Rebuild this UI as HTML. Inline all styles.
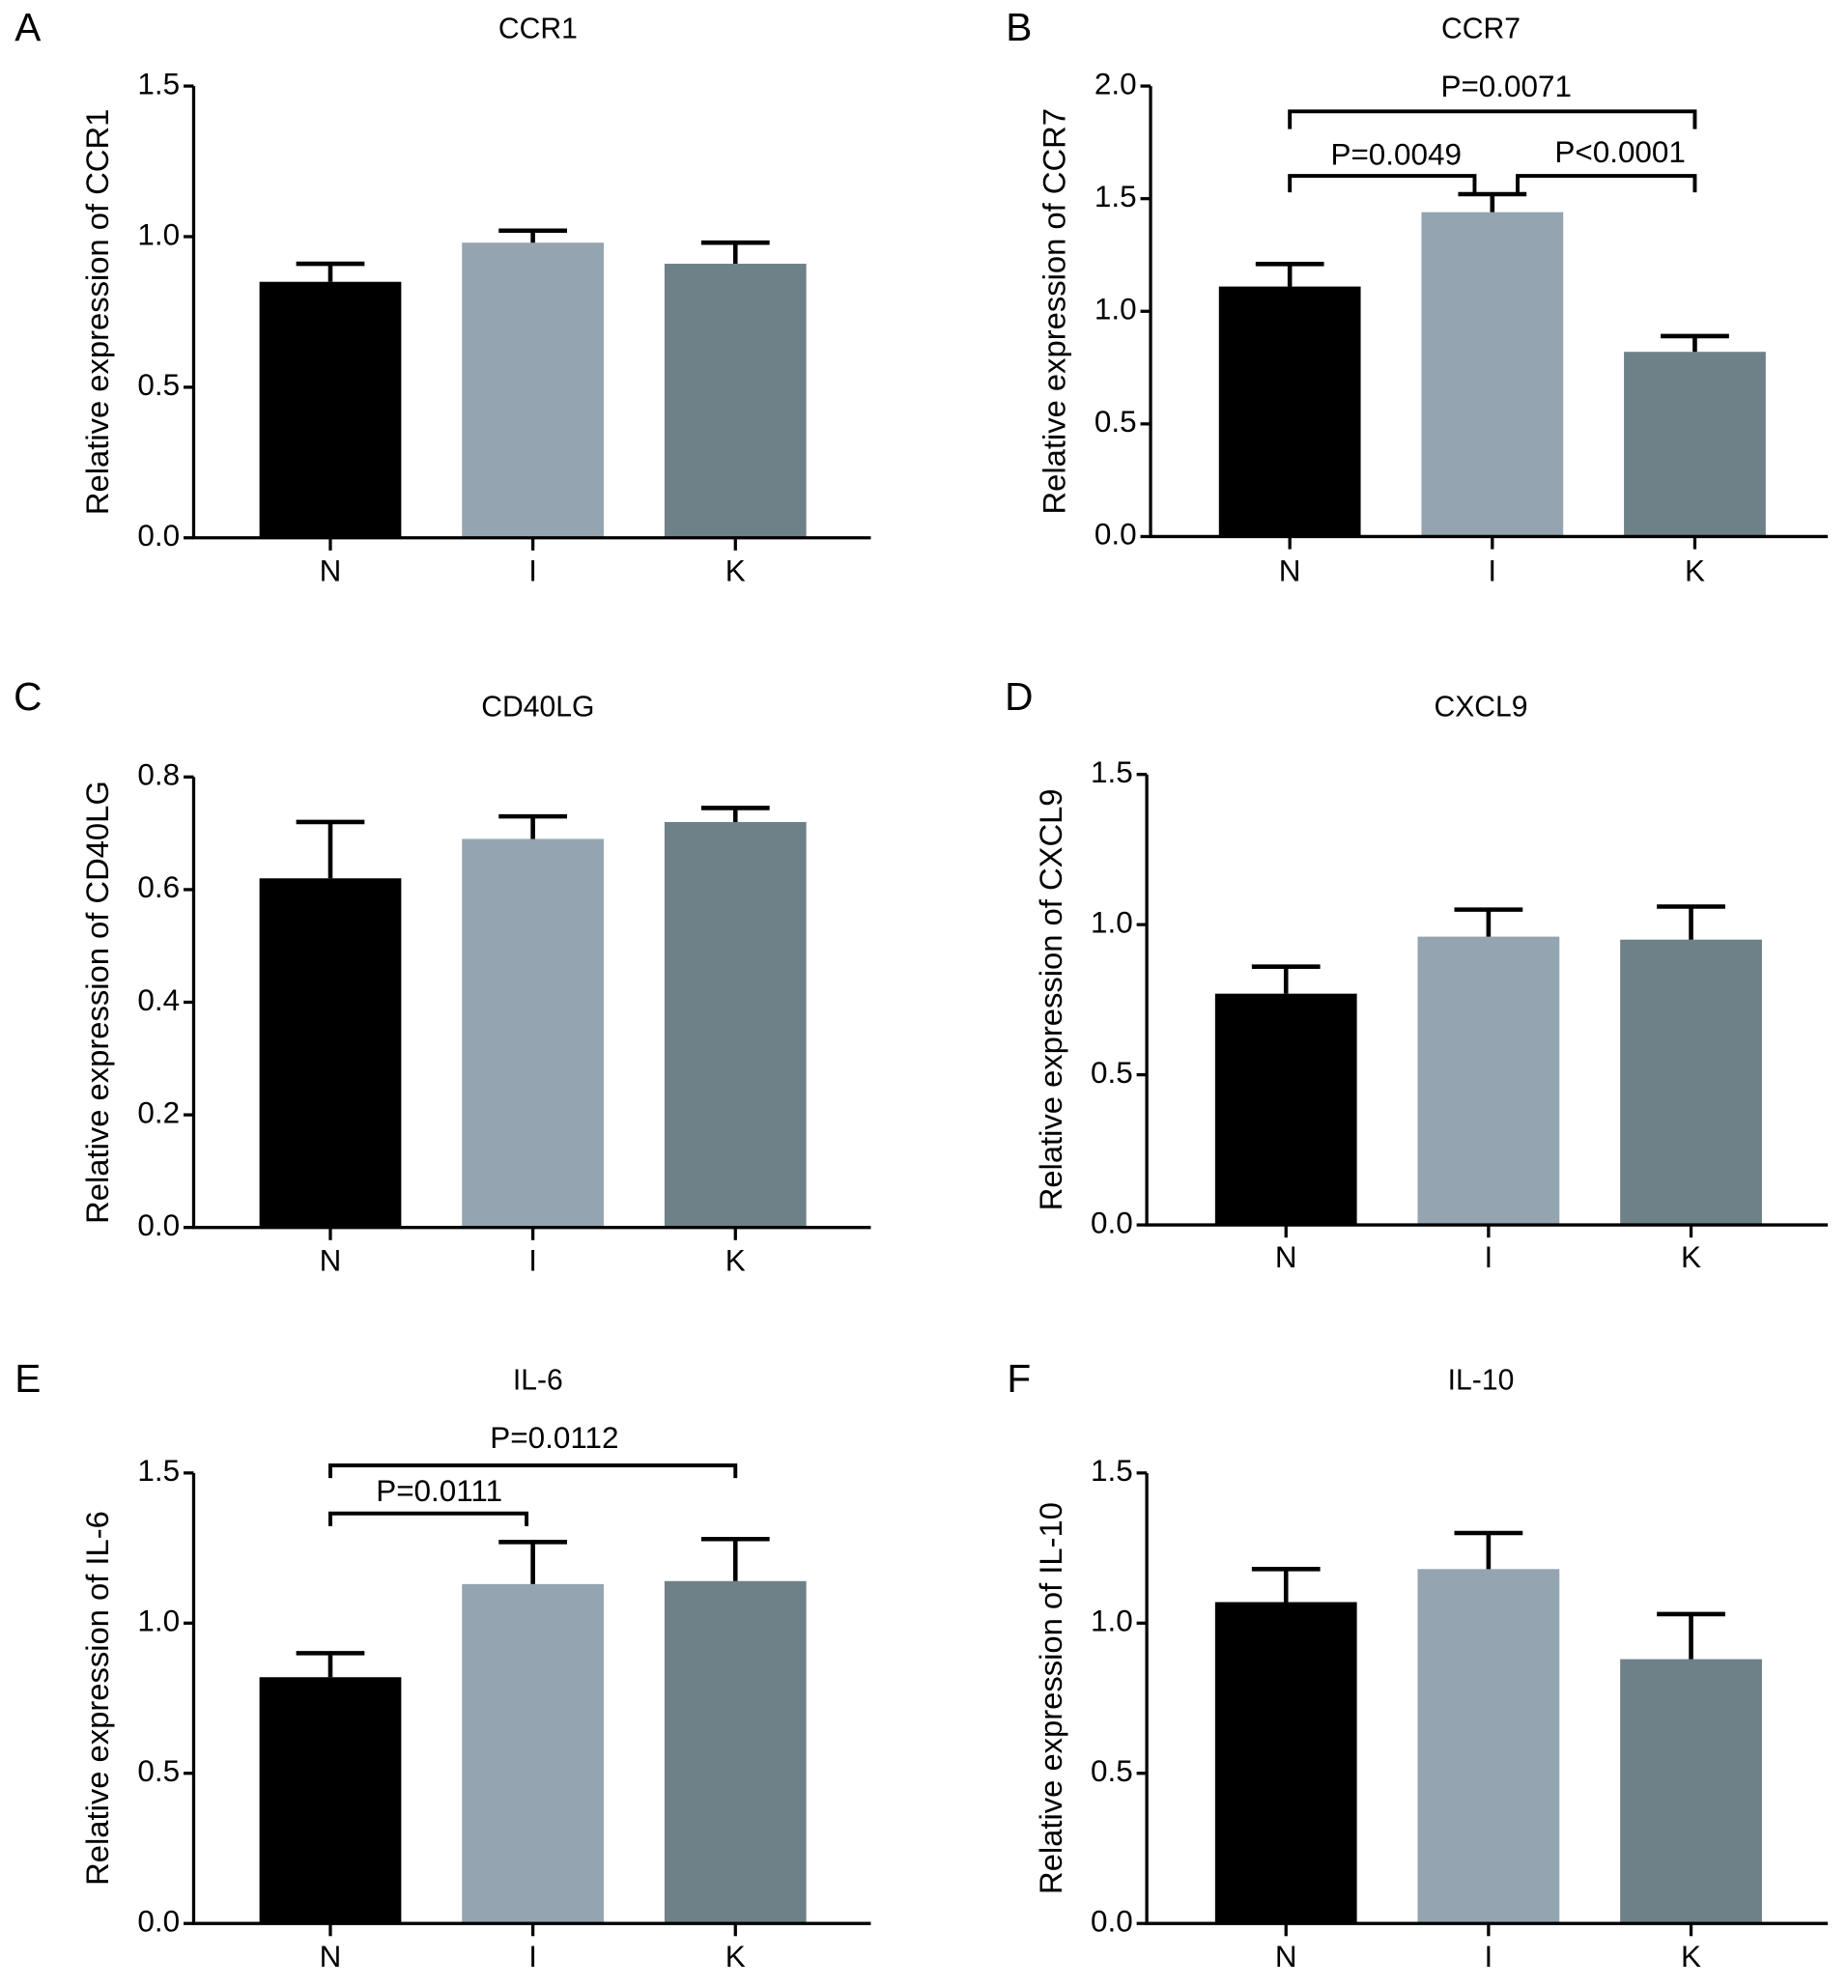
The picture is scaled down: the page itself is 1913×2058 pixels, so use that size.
<!DOCTYPE html>
<html><head><meta charset="utf-8"><style>
html,body{margin:0;padding:0;background:#fff;}
svg{display:block;font-family:"Liberation Sans",Arial,sans-serif;}
</style></head><body>
<svg id="fig" width="1913" height="2058" viewBox="0 0 1460 1571" preserveAspectRatio="none" xmlns="http://www.w3.org/2000/svg"></svg>
<script>
const categories = ["N","I","K"];
const panelLetters = ["A","B","C","D","E","F"];
const panelTitles = ["CCR1","CCR7","CD40LG","CXCL9","IL-6","IL-10"];
const yTitles = ["Relative expression of CCR1","Relative expression of CCR7","Relative expression of CD40LG","Relative expression of CXCL9","Relative expression of IL-6","Relative expression of IL-10"];
const meansA = [0.85,0.98,0.91], errA = [0.91,1.02,0.98];
const meansB = [1.11,1.44,0.82], errB = [1.21,1.52,0.89];
const meansC = [0.62,0.69,0.72], errC = [0.72,0.73,0.745];
const meansD = [0.77,0.96,0.95], errD = [0.86,1.05,1.06];
const meansE = [0.82,1.13,1.14], errE = [0.90,1.27,1.28];
const meansF = [1.07,1.18,0.88], errF = [1.18,1.30,1.03];
const ticksA = ["0.0","0.5","1.0","1.5"];
const ticksB = ["0.0","0.5","1.0","1.5","2.0"];
const ticksC = ["0.0","0.2","0.4","0.6","0.8"];
const ticksD = ["0.0","0.5","1.0","1.5"];
const ticksE = ["0.0","0.5","1.0","1.5"];
const ticksF = ["0.0","0.5","1.0","1.5"];
const pLabelsB = ["P=0.0071","P=0.0049","P<0.0001"];
const pLabelsE = ["P=0.0112","P=0.0111"];
const colors = ["#000000","#94a5b1","#6e8088"];

const NS="http://www.w3.org/2000/svg";
const svg=document.getElementById('fig');
function mk(tag,attrs,parent){const e=document.createElementNS(NS,tag);for(const k in attrs)e.setAttribute(k,attrs[k]);(parent||svg).appendChild(e);return e;}

const layouts=[
 {ax:153,x0:153,x1:688,yTop:68,yBot:425,max:1.5,lx:22,ly:24,tx:425,ty:24,xl:453,barL:205,means:meansA,errs:errA,ticks:ticksA},
 {ax:909,x0:909,x1:1444,yTop:68,yBot:424,max:2.0,lx:805,ly:24,tx:1170,ty:24,xl:453,barL:963,means:meansB,errs:errB,ticks:ticksB},
 {ax:153,x0:153,x1:688,yTop:614,yBot:970,max:0.8,lx:22,ly:553,tx:425,ty:560,xl:998,barL:205,means:meansC,errs:errC,ticks:ticksC},
 {ax:906,x0:906,x1:1444,yTop:612,yBot:968,max:1.5,lx:805,ly:553,tx:1170,ty:560,xl:995,barL:960,means:meansD,errs:errD,ticks:ticksD},
 {ax:153,x0:153,x1:688,yTop:1164,yBot:1520,max:1.5,lx:22,ly:1092,tx:425,ty:1092,xl:1548,barL:205,means:meansE,errs:errE,ticks:ticksE},
 {ax:906,x0:906,x1:1444,yTop:1164,yBot:1520,max:1.5,lx:805,ly:1092,tx:1170,ty:1092,xl:1548,barL:960,means:meansF,errs:errF,ticks:ticksF}
];

const panels=[];
layouts.forEach((L,i)=>{
  const g=mk('g',{});
  
  
  const y=v=>L.yBot-(v/L.max)*(L.yBot-L.yTop);
  const cx=j=>L.barL+56+j*160;
  const letter=mk('text',{x:L.lx,y:L.ly,'font-size':31,'text-anchor':'middle','dominant-baseline':'middle'},g);
  letter.textContent=panelLetters[i];
  
  
  const t=mk('text',{x:L.tx,y:L.ty,'font-size':23,'text-anchor':'middle','dominant-baseline':'middle'},g);
  t.textContent=panelTitles[i];
  
  
  L.means.forEach((m,j)=>{
    const r=mk('rect',{x:L.barL+j*160,y:y(m),width:112,height:L.yBot-y(m),fill:colors[j]},g);
    
    
    const e=mk('path',{d:`M${cx(j)} ${y(m)}V${y(L.errs[j])}M${cx(j)-27} ${y(L.errs[j])}H${cx(j)+27}`,stroke:'#000','stroke-width':3.5,fill:'none'},g);
    
    
  });
  const ya=mk('line',{x1:L.ax,y1:L.yTop,x2:L.ax,y2:L.yBot+1,stroke:'#000','stroke-width':2.5},g);
  
  
  const xa=mk('line',{x1:L.x0-1,y1:L.yBot,x2:L.x1,y2:L.yBot,stroke:'#000','stroke-width':2.5},g);
  
  
  L.ticks.forEach(tk=>{
    const v=parseFloat(tk);
    mk('line',{x1:L.ax-8,y1:y(v),x2:L.ax,y2:y(v),stroke:'#000','stroke-width':2.5},g);
    const tl=mk('text',{x:L.ax-11,y:y(v),'font-size':24,'text-anchor':'end','dominant-baseline':'middle'},g);
    tl.textContent=tk;
    
    
  });
  categories.forEach((c,j)=>{
    mk('line',{x1:cx(j),y1:L.yBot,x2:cx(j),y2:L.yBot+10,stroke:'#000','stroke-width':2.5},g);
    const xl=mk('text',{x:cx(j),y:L.xl,'font-size':24,'text-anchor':'middle','dominant-baseline':'middle'},g);
    xl.textContent=c;
    
    
  });
  const yt=mk('text',{x:0,y:0,'font-size':25,'text-anchor':'middle','dominant-baseline':'middle',transform:`translate(${L.ax-74},${(L.yTop+L.yBot)/2}) rotate(-90)`},g);
  yt.textContent=yTitles[i];
  
  
  panels.push({g,y,cx});
});

function bracket(g,x1,x2,yy,drop,label,lx,ly){
  const p=mk('path',{d:`M${x1} ${yy+drop}V${yy}H${x2}V${yy+drop}`,stroke:'#000','stroke-width':3,fill:'none'},g);
  
  
  const t=mk('text',{x:lx,y:ly,'font-size':24,'text-anchor':'middle','dominant-baseline':'middle'},g);
  t.textContent=label;
  
  
}
const B=panels[1];
bracket(B.g,B.cx(0),B.cx(2),88,14,pLabelsB[0],1190,70);
bracket(B.g,B.cx(0),B.cx(1)-14,139,13,pLabelsB[1],1103,124);
bracket(B.g,B.cx(1)+20,B.cx(2),139,13,pLabelsB[2],1280,122);
const E=panels[4];
bracket(E.g,E.cx(0),E.cx(2),1158,10,pLabelsE[0],438,1138);
bracket(E.g,E.cx(0),E.cx(1)-5,1196,10,pLabelsE[1],347,1180);
</script>
</body></html>
